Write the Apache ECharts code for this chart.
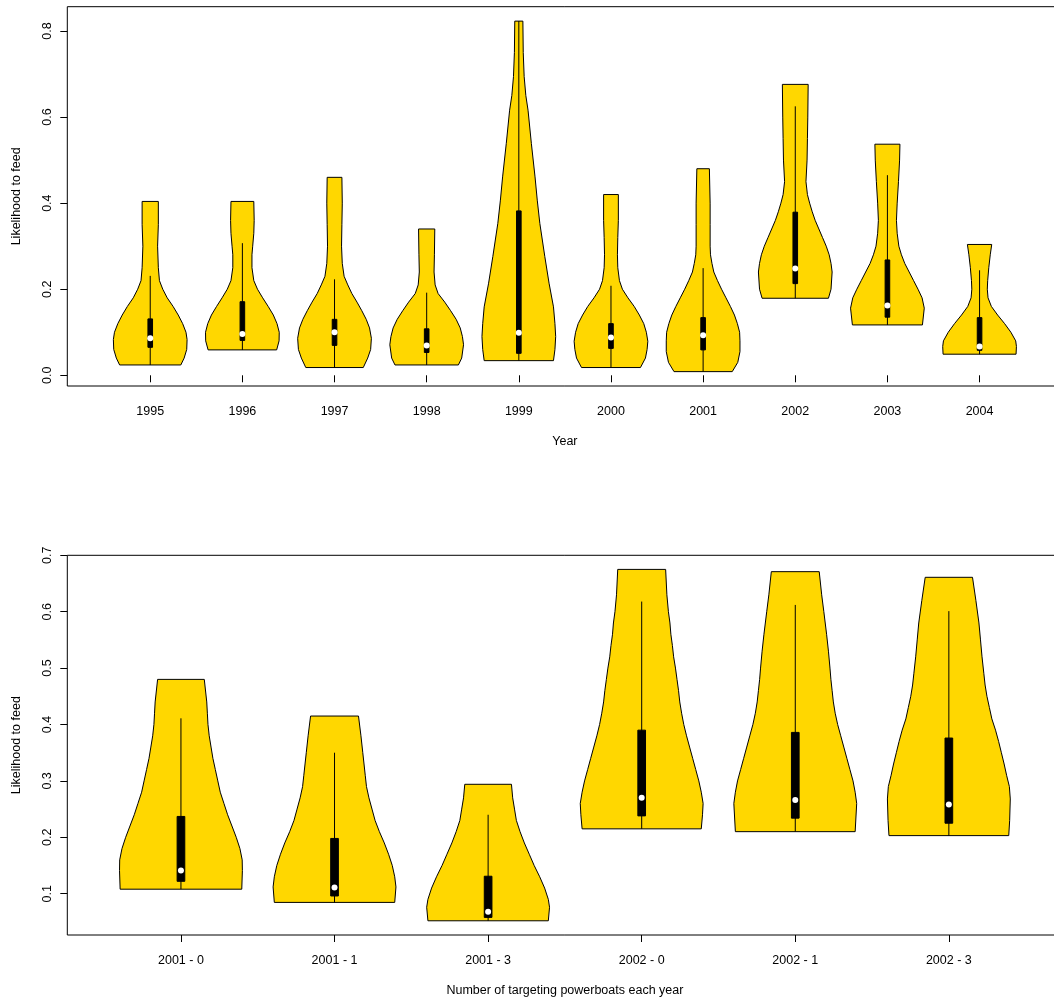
<!DOCTYPE html>
<html>
<head>
<meta charset="utf-8">
<script src="https://cdn.jsdelivr.net/npm/echarts@6/dist/echarts.min.js"></script>
<style>
html,body{margin:0;padding:0;background:#fff;width:1054px;height:1001px;overflow:hidden;}
#chart{width:1080px;height:1001px;}
</style>
</head>
<body>
<div id="chart"></div>
<script>
// ---------- categories / tick labels ----------
const yearLabels = ['1995','1996','1997','1998','1999','2000','2001','2002','2003','2004'];
const groupLabels = ['2001 - 0','2001 - 1','2001 - 3','2002 - 0','2002 - 1','2002 - 3'];
const topYTicks = [0, 0.2, 0.4, 0.6, 0.8];
const botYTicks = [0.1, 0.2, 0.3, 0.4, 0.5, 0.6, 0.7];

// ---------- top panel: box statistics ----------
const topQ1  = [0.065, 0.081, 0.0695, 0.053, 0.051, 0.0625, 0.059, 0.213, 0.135, 0.058];
const topQ3  = [0.131, 0.171, 0.130, 0.108, 0.382, 0.120, 0.134, 0.379, 0.268, 0.134];
const topMed = [0.086, 0.096, 0.100, 0.069, 0.099, 0.088, 0.093, 0.248, 0.162, 0.067];
const topLo  = [0.024, 0.059, 0.018, 0.024, 0.034, 0.018, 0.0085, 0.179, 0.117, 0.049];
const topHi  = [0.231, 0.307, 0.223, 0.192, 0.823, 0.208, 0.249, 0.625, 0.465, 0.244];

// ---------- top panel: density profiles [value, relative half-width] ----------
const dens1995 = [[0.024,0.83],[0.04,0.92],[0.06,0.99],[0.083,1.0],[0.10,0.97],[0.12,0.88],[0.14,0.76],[0.16,0.62],[0.18,0.46],[0.20,0.34],[0.22,0.25],[0.25,0.22],[0.30,0.20],[0.35,0.22],[0.404,0.22]];
const dens1996 = [[0.059,0.93],[0.08,0.996],[0.10,1.0],[0.12,0.94],[0.14,0.84],[0.16,0.70],[0.18,0.55],[0.20,0.41],[0.22,0.31],[0.25,0.26],[0.28,0.26],[0.30,0.28],[0.33,0.31],[0.36,0.32],[0.404,0.31]];
const dens1997 = [[0.018,0.78],[0.04,0.90],[0.06,0.98],[0.086,1.0],[0.11,0.95],[0.13,0.86],[0.15,0.74],[0.17,0.61],[0.19,0.47],[0.21,0.36],[0.23,0.26],[0.26,0.21],[0.30,0.19],[0.35,0.20],[0.40,0.21],[0.46,0.20]];
const dens1998 = [[0.024,0.86],[0.04,0.95],[0.071,1.0],[0.09,0.97],[0.11,0.91],[0.13,0.80],[0.15,0.65],[0.17,0.49],[0.19,0.31],[0.21,0.23],[0.24,0.20],[0.28,0.21],[0.34,0.22]];
const dens1999 = [[0.034,0.94],[0.06,0.98],[0.09,1.0],[0.12,0.98],[0.159,0.94],[0.214,0.82],[0.276,0.705],[0.353,0.57],[0.407,0.50],[0.461,0.44],[0.539,0.34],[0.616,0.25],[0.65,0.19],[0.694,0.145],[0.75,0.12],[0.823,0.11]];
const dens2000 = [[0.018,0.80],[0.04,0.935],[0.06,0.98],[0.079,1.0],[0.10,0.96],[0.12,0.89],[0.14,0.77],[0.16,0.63],[0.18,0.46],[0.20,0.31],[0.22,0.23],[0.25,0.185],[0.28,0.175],[0.32,0.185],[0.36,0.20],[0.42,0.20]];
const dens2001 = [[0.0085,0.79],[0.03,0.94],[0.055,1.0],[0.08,1.0],[0.10,0.99],[0.12,0.93],[0.14,0.85],[0.16,0.74],[0.18,0.62],[0.20,0.50],[0.22,0.39],[0.24,0.29],[0.26,0.24],[0.28,0.20],[0.30,0.19],[0.35,0.19],[0.40,0.19],[0.48,0.17]];
const dens2002 = [[0.179,0.90],[0.20,0.97],[0.24,1.0],[0.26,0.97],[0.28,0.92],[0.30,0.84],[0.32,0.74],[0.34,0.64],[0.36,0.54],[0.38,0.46],[0.40,0.39],[0.42,0.33],[0.45,0.29],[0.50,0.32],[0.55,0.33],[0.60,0.34],[0.676,0.35]];
const dens2003 = [[0.117,0.95],[0.156,1.0],[0.18,0.94],[0.20,0.83],[0.22,0.71],[0.24,0.59],[0.26,0.47],[0.28,0.38],[0.30,0.31],[0.33,0.265],[0.36,0.245],[0.40,0.265],[0.45,0.30],[0.50,0.33],[0.537,0.34]];
const dens2004 = [[0.049,0.99],[0.067,1.0],[0.08,0.98],[0.10,0.85],[0.12,0.68],[0.14,0.49],[0.16,0.32],[0.18,0.23],[0.20,0.21],[0.22,0.22],[0.25,0.25],[0.28,0.29],[0.304,0.33]];

// ---------- bottom panel: box statistics ----------
const botQ1  = [0.122, 0.096, 0.058, 0.238, 0.234, 0.225];
const botQ3  = [0.237, 0.198, 0.131, 0.390, 0.386, 0.376];
const botMed = [0.141, 0.111, 0.068, 0.270, 0.266, 0.258];
const botLo  = [0.108, 0.0846, 0.052, 0.215, 0.210, 0.203];
const botHi  = [0.411, 0.350, 0.240, 0.618, 0.612, 0.601];

// ---------- bottom panel: density profiles ----------
const dens2001_0 = [[0.108,0.99],[0.141,1.0],[0.16,0.997],[0.18,0.96],[0.20,0.90],[0.22,0.83],[0.24,0.76],[0.26,0.70],[0.28,0.64],[0.30,0.60],[0.32,0.56],[0.34,0.52],[0.36,0.49],[0.38,0.46],[0.40,0.44],[0.42,0.43],[0.44,0.42],[0.48,0.38]];
const dens2001_1 = [[0.0846,0.98],[0.112,1.0],[0.13,0.98],[0.15,0.94],[0.17,0.88],[0.19,0.81],[0.21,0.73],[0.23,0.66],[0.25,0.61],[0.27,0.56],[0.29,0.52],[0.31,0.50],[0.33,0.48],[0.35,0.46],[0.38,0.43],[0.415,0.39]];
const dens2001_3 = [[0.052,0.98],[0.076,1.0],[0.09,0.98],[0.11,0.92],[0.13,0.84],[0.15,0.75],[0.17,0.67],[0.19,0.59],[0.21,0.52],[0.23,0.46],[0.25,0.43],[0.27,0.40],[0.294,0.38]];
const dens2002_0 = [[0.215,0.97],[0.24,0.99],[0.26,1.0],[0.28,0.97],[0.30,0.93],[0.32,0.88],[0.34,0.83],[0.36,0.78],[0.38,0.73],[0.40,0.685],[0.42,0.65],[0.44,0.62],[0.46,0.60],[0.48,0.575],[0.50,0.55],[0.52,0.52],[0.54,0.50],[0.56,0.475],[0.58,0.46],[0.60,0.435],[0.63,0.41],[0.675,0.39]];
const dens2002_1 = [[0.210,0.975],[0.26,1.0],[0.28,0.975],[0.30,0.94],[0.32,0.89],[0.34,0.84],[0.36,0.79],[0.38,0.74],[0.40,0.69],[0.42,0.65],[0.44,0.62],[0.46,0.60],[0.48,0.58],[0.50,0.565],[0.53,0.54],[0.56,0.51],[0.60,0.465],[0.63,0.43],[0.671,0.39]];
const dens2002_3 = [[0.203,0.975],[0.23,0.99],[0.268,1.0],[0.29,0.985],[0.31,0.94],[0.33,0.90],[0.35,0.855],[0.37,0.81],[0.39,0.76],[0.41,0.70],[0.43,0.66],[0.45,0.62],[0.47,0.59],[0.49,0.57],[0.52,0.54],[0.55,0.515],[0.58,0.49],[0.62,0.44],[0.661,0.385]];

const topDens = [dens1995, dens1996, dens1997, dens1998, dens1999, dens2000, dens2001, dens2002, dens2003, dens2004];
const botDens = [dens2001_0, dens2001_1, dens2001_3, dens2002_0, dens2002_1, dens2002_3];

// ---------- rendering ----------
const FONT = "'Liberation Sans', Arial, Helvetica, sans-serif";
const FS = 12.5;
const HALF = 0.4;   // max half-width of a violin, in x units
const BOXW = 0.05;  // box width, in x units

function violinRenderer(dens, q1, q3, med, lo, hi) {
  return function (params, api) {
    const i = params.dataIndex;
    const x = api.value(0);
    const prof = dens[i];
    const right = prof.map(p => api.coord([x + p[1] * HALF, p[0]]));
    const left = prof.slice().reverse().map(p => api.coord([x - p[1] * HALF, p[0]]));
    const pLo = api.coord([x, lo[i]]);
    const pHi = api.coord([x, hi[i]]);
    const bTL = api.coord([x - BOXW / 2, q3[i]]);
    const bBR = api.coord([x + BOXW / 2, q1[i]]);
    const pm = api.coord([x, med[i]]);
    return {
      type: 'group',
      children: [
        { type: 'polygon', shape: { points: right.concat(left) },
          style: { fill: '#FFD700', stroke: '#000', lineWidth: 1 } },
        { type: 'line', shape: { x1: pLo[0], y1: pLo[1], x2: pHi[0], y2: pHi[1] },
          style: { stroke: '#000', lineWidth: 1 } },
        { type: 'rect', shape: { x: bTL[0], y: bTL[1], width: bBR[0] - bTL[0], height: bBR[1] - bTL[1] },
          style: { fill: '#000', stroke: '#000', lineWidth: 1 } },
        { type: 'circle', shape: { cx: pm[0], cy: pm[1], r: 3 },
          style: { fill: '#fff' } }
      ]
    };
  };
}

const labelStyle = { color: '#000', fontFamily: FONT, fontSize: FS };

function xAxisCfg(gridIndex, n, labels, name) {
  const ticks = labels.map((_, k) => k + 1);
  const ext = n * 0.04;
  return {
    type: 'value', gridIndex: gridIndex,
    min: 0.5 - ext, max: n + 0.5 + ext,
    axisLine: { show: false },
    splitLine: { show: false },
    axisTick: { show: true, inside: false, length: 7, customValues: ticks, lineStyle: { color: '#000', width: 1 } },
    axisLabel: Object.assign({ margin: 19, customValues: ticks,
      formatter: v => labels[Math.round(v) - 1] }, labelStyle),
    name: name, nameLocation: 'middle', nameGap: 49,
    nameTextStyle: labelStyle
  };
}

function yAxisCfg(gridIndex, min, max, ticks) {
  return {
    type: 'value', gridIndex: gridIndex, min: min, max: max,
    axisLine: { show: false },
    splitLine: { show: false },
    axisTick: { show: true, inside: false, length: 7, customValues: ticks, lineStyle: { color: '#000', width: 1 } },
    axisLabel: Object.assign({ margin: 13, rotate: 90, customValues: ticks,
      formatter: v => v.toFixed(1) }, labelStyle),
    name: 'Likelihood to feed', nameLocation: 'middle', nameGap: 44, nameRotate: 90,
    nameTextStyle: labelStyle
  };
}

const chart = echarts.init(document.getElementById('chart'), null, { renderer: 'canvas' });
chart.setOption({
  animation: false,
  backgroundColor: '#fff',
  grid: [
    { left: 67.3, top: 6.7, width: 995.2, height: 379.3, show: true, borderColor: '#000', borderWidth: 1, backgroundColor: 'transparent' },
    { left: 67.3, top: 555.3, width: 995.2, height: 379.7, show: true, borderColor: '#000', borderWidth: 1, backgroundColor: 'transparent' }
  ],
  xAxis: [
    xAxisCfg(0, yearLabels.length, yearLabels, 'Year'),
    xAxisCfg(1, groupLabels.length, groupLabels, 'Number of targeting powerboats each year')
  ],
  yAxis: [
    yAxisCfg(0, -0.0249, 0.8565, topYTicks),
    yAxisCfg(1, 0.0268, 0.7, botYTicks)
  ],
  series: [
    {
      type: 'custom', xAxisIndex: 0, yAxisIndex: 0,
      renderItem: violinRenderer(topDens, topQ1, topQ3, topMed, topLo, topHi),
      encode: { x: 0, y: 1 },
      data: yearLabels.map((_, k) => [k + 1, topMed[k]])
    },
    {
      type: 'custom', xAxisIndex: 1, yAxisIndex: 1,
      renderItem: violinRenderer(botDens, botQ1, botQ3, botMed, botLo, botHi),
      encode: { x: 0, y: 1 },
      data: groupLabels.map((_, k) => [k + 1, botMed[k]])
    }
  ]
});
</script>
</body>
</html>
